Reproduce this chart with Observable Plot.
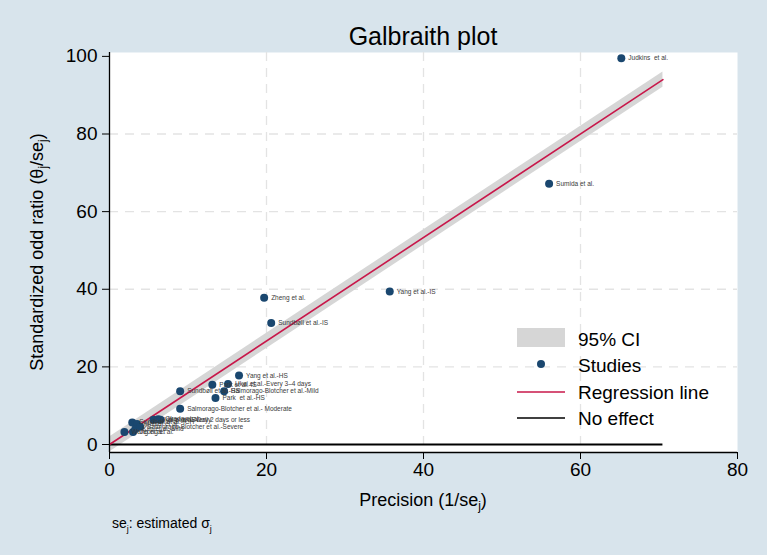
<!DOCTYPE html>
<html><head><meta charset="utf-8">
<script src="https://cdn.jsdelivr.net/npm/d3@7"></script>
<script src="https://cdn.jsdelivr.net/npm/@observablehq/plot@0.6"></script>
<style>
body{margin:0;background:#d8e4ec;}
#wrap{position:relative;width:767px;height:555px;background:#d8e4ec;font-family:"Liberation Sans",Arial,sans-serif;overflow:hidden;color:#000}
#title{position:absolute;left:109px;width:628px;top:21px;text-align:center;font-size:25px;line-height:30px}
#note{position:absolute;left:112px;top:514px;font-size:14px;line-height:18px}
#note sub{font-size:9px}
#chart{position:absolute;left:0;top:0}
</style></head><body>
<div id="wrap"><div id="chart"></div><div id="title">Galbraith plot</div><div id="note">se<sub>j</sub>: estimated σ<sub>j</sub></div></div>
<script>
// ---- data ----
const studies = [
  "Judkins  et al.", "Sumida et al.", "Yang et al.-IS", "Zheng et al.", "Sundbøll et al.-IS",
  "Yang et al.-HS", "Park et al.-IS", "Ukai et al.-Every 3–4 days", "Sundbøll et al.-HS",
  "Salmorago-Blotcher et al.-Mild", "Park  et al.-HS", "Salmorago-Blotcher et al.- Moderate",
  "Sundbøll et al.-ICH", "Matsui et al.", "Ukai et al.-Every 2 days or less", "Okada et al.",
  "Kim et al.-Daily", "Wang et al.", "Jeong et al.", "Kim et al.-Mild", "Salmorago-Blotcher et al.-Severe"
];
const precision = [65.2, 56.0, 35.7, 19.7, 20.6, 16.5, 13.1, 15.1, 9.0, 14.6, 13.5, 9.0,
                   2.9, 3.5, 5.6, 6.2, 6.5, 1.9, 3.0, 3.3, 3.9];
const stdOddRatio = [99.5, 67.2, 39.4, 37.8, 31.3, 17.8, 15.4, 15.6, 13.7, 13.7, 12.0, 9.2,
                     5.7, 5.3, 6.4, 6.5, 6.4, 3.2, 3.2, 4.0, 4.6];
const regX = [0, 70.5];
const regY = [0, 94.0];
const ciHalf = [1.96, 1.96];
const xTicks = [0, 20, 40, 60, 80];
const yTicks = [0, 20, 40, 60, 80, 100];
const gridX = [20, 40, 60];
const gridY = [20, 40, 60, 80];
const noEffect = 0;

const rows = studies.map((s, i) => ({name: s, x: precision[i], y: stdOddRatio[i]}));
const reg = regX.map((x, i) => ({x, y: regY[i], lo: regY[i] - ciHalf[i], hi: regY[i] + ciHalf[i]}));

const navy = "#1a476f", crimson = "#c8174a", band = "#d6d6d6", grid = "#e3e3e3";
const yMin = -2.06, yMax = 101;

const plot = Plot.plot({
  width: 767, height: 515,
  marginLeft: 109, marginRight: 30, marginTop: 52, marginBottom: 63,
  style: {background: "transparent", fontFamily: "'Liberation Sans', Arial, sans-serif", color: "#000"},
  x: {domain: [0, 80]},
  y: {domain: [yMin, yMax]},
  marks: [
    Plot.frame({fill: "white", stroke: "none"}),
    Plot.ruleX(gridX, {stroke: grid, strokeWidth: 1.3, strokeDasharray: "9,7"}),
    Plot.ruleY(gridY, {stroke: grid, strokeWidth: 1.3, strokeDasharray: "9,7"}),
    Plot.areaY(reg, {x: "x", y1: "lo", y2: "hi", fill: band}),
    Plot.ruleY([noEffect], {x1: regX[0], x2: regX[1], stroke: "#000", strokeWidth: 2}),
    Plot.line(reg, {x: "x", y: "y", stroke: crimson, strokeWidth: 1.6}),
    Plot.dot(rows, {x: "x", y: "y", r: 4, fill: navy, stroke: "none"}),
    Plot.text(rows, {x: "x", y: "y", text: "name", dx: 7, textAnchor: "start", fontSize: 6.5, fill: "#3a3a3a"}),
    Plot.ruleX([0], {stroke: "#000", strokeWidth: 1.3}),
    Plot.ruleY([yMin], {stroke: "#000", strokeWidth: 1.5}),
    Plot.axisX({ticks: xTicks, tickSize: 7, tickPadding: 3, fontSize: 19, label: null, stroke: "#000"}),
    Plot.axisY({ticks: yTicks, tickSize: 7, tickPadding: 5, fontSize: 19, label: null, stroke: "#000"})
  ]
});
document.getElementById("chart").appendChild(plot);

const svg = d3.select(plot);
// axis titles
const xt = svg.append("text").attr("x", 423).attr("y", 506).attr("text-anchor", "middle")
  .attr("font-size", 18).attr("fill", "#000");
xt.append("tspan").text("Precision (1/se");
xt.append("tspan").attr("dy", 4).attr("font-size", 12).text("j");
xt.append("tspan").attr("dy", -4).text(")");

const yt = svg.append("text").attr("transform", "translate(43,252) rotate(-90)").attr("text-anchor", "middle")
  .attr("font-size", 18).attr("fill", "#000");
yt.append("tspan").text("Standardized odd ratio (θ");
yt.append("tspan").attr("dy", 4).attr("font-size", 12).text("j");
yt.append("tspan").attr("dy", -4).text("/se");
yt.append("tspan").attr("dy", 4).attr("font-size", 12).text("j");
yt.append("tspan").attr("dy", -4).text(")");

// legend
const lg = svg.append("g").attr("font-size", 19).attr("fill", "#000").attr("text-anchor", "start");
lg.append("rect").attr("x", 517).attr("y", 328).attr("width", 48).attr("height", 19).attr("fill", band);
lg.append("circle").attr("cx", 541).attr("cy", 364).attr("r", 4).attr("fill", navy);
lg.append("line").attr("x1", 517).attr("x2", 565).attr("y1", 392).attr("y2", 392).attr("stroke", crimson).attr("stroke-width", 1.6);
lg.append("line").attr("x1", 517).attr("x2", 565).attr("y1", 418).attr("y2", 418).attr("stroke", "#000").attr("stroke-width", 1.6);
[["95% CI", 346], ["Studies", 372], ["Regression line", 399], ["No effect", 425]].forEach(([t, y]) =>
  lg.append("text").attr("x", 578).attr("y", y).attr("text-anchor", "start").text(t));
</script>
</body></html>
